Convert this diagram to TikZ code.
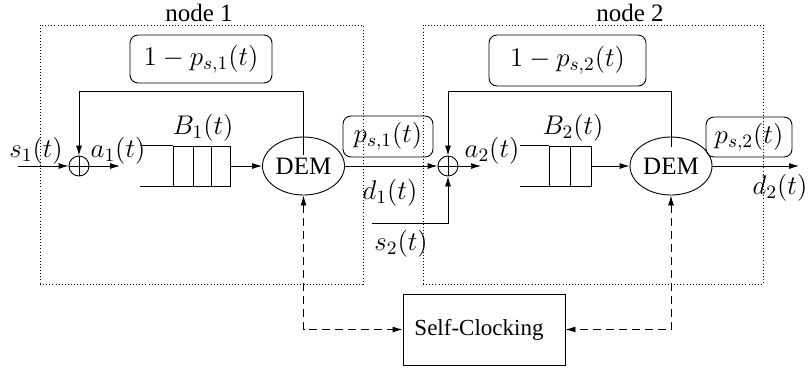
\RequirePackage{fix-cm}
\documentclass[tikz,border=0pt]{standalone}
\usepackage[no-math]{fontspec}
\setmainfont{Liberation Serif}
\usetikzlibrary{arrows.meta,calc,shapes.geometric}
\begin{document}
\begin{tikzpicture}[x=0.5pt,y=-0.5pt,
  line width=0.45pt,
  arr/.style={-{Latex[length=5pt,width=3pt]}},
  arrb/.style={{Latex[length=5pt,width=3pt]}-{Latex[length=5pt,width=3pt]}},
  ctl/.style={dash pattern=on 4pt off 2.5pt},
  mathlbl/.style={font=\fontsize{13.5}{16}\selectfont, inner sep=0pt},
  txt/.style={font=\fontsize{12.5}{15}\selectfont, inner sep=0pt},
  nodebox/.style={draw, line width=0.45pt, dash pattern=on 0.45pt off 1.1pt, rectangle, inner sep=0pt},
  probbox/.style={draw, rounded corners=4pt, inner sep=0pt, font=\fontsize{13.5}{16}\selectfont},
  sumnode/.style={draw, circle, minimum size=10pt, inner sep=0pt},
  demnode/.style={draw, ellipse, minimum width=41pt, minimum height=29pt, inner sep=0pt, font=\fontsize{12.5}{15}\selectfont},
  queue/.style={draw, rectangle, inner sep=0pt}
]
\useasboundingbox (0,0) rectangle (812,371);

% node frames
\node[nodebox, minimum width=161.5pt, minimum height=129.5pt] (n1) at (201.5,154.5) {};
\node[txt] (n1lbl) at (199,13) {node 1};
\node[nodebox, minimum width=170pt, minimum height=129.5pt] (n2) at (593,154.5) {};
\node[txt] (n2lbl) at (630,13) {node 2};

% probability boxes
\node[probbox, minimum width=71pt, minimum height=24pt] (fb1) at (201,59) {$1-p_{s,1}(t)$};
\node[probbox, minimum width=78.5pt, minimum height=25.5pt] (fb2) at (567.5,60.5) {$1-p_{s,2}(t)$};
\node[probbox, minimum width=45pt, minimum height=20.5pt] (ps1) at (388,136.5) {$p_{s,1}(t)$};
\node[probbox, minimum width=43pt, minimum height=20pt] (ps2) at (749,137) {$p_{s,2}(t)$};

% summation points
\node[sumnode] (sum1) at (79,166) {};
\draw (sum1.north) -- (sum1.south) (sum1.west) -- (sum1.east);
\node[sumnode] (sum2) at (448,166) {};
\draw (sum2.north) -- (sum2.south) (sum2.west) -- (sum2.east);

% DEM
\node[demnode] (dem1) at (303.5,166) {\raisebox{-2pt}{DEM}};
\node[demnode] (dem2) at (671,166) {\raisebox{-2pt}{DEM}};

% queues
\node[queue, minimum width=28.5pt, minimum height=20pt] (q1) at (201.5,166) {};
\draw (q1.north west) -- ++(-33,0) (q1.south west) -- ++(-33,0);
\draw (193,146) -- (193,186) (211,146) -- (211,186);
\node[queue, minimum width=21pt, minimum height=20pt] (q2) at (570,166) {};
\draw (q2.north west) -- ++(-29,0) (q2.south west) -- ++(-29,0);
\draw (570.5,146) -- (570.5,186);

% node 1 connectors
\coordinate (s1in) at (18,166);
\draw[arr] (s1in) -- (sum1.west);
\node[mathlbl] (s1lbl) at (36,151) {$s_1(t)$};
\coordinate (a1end) at (120,166);
\draw[arr] (sum1.east) -- (a1end);
\node[mathlbl] (a1lbl) at (118,151) {$a_1(t)$};
\node[mathlbl] (b1lbl) at (203,128) {$B_1(t)$};
\draw[arr] (q1.east) -- (dem1.west);
\draw[arr] ($(dem1.north)+(0,18)$) -- ++(0,-63) -| (sum1.north);
\draw[arr] (dem1.east) -- (sum2.west);
\node[mathlbl] (d1lbl) at (390,193) {$d_1(t)$};

% node 2 connectors
\coordinate (s2in) at (372,223);
\draw[arr] (s2in) -| (sum2.south);
\node[mathlbl] (s2lbl) at (401,244) {$s_2(t)$};
\coordinate (a2end) at (481,166);
\draw[arr] (sum2.east) -- (a2end);
\node[mathlbl] (a2lbl) at (492,151) {$a_2(t)$};
\node[mathlbl] (b2lbl) at (573,128) {$B_2(t)$};
\draw[arr] (q2.east) -- (dem2.west);
\draw[arr] ($(dem2.north)+(0,10)$) -- ++(0,-55) -| (sum2.north);
\coordinate (d2end) at (799,166);
\draw[arr] (dem2.east) -- (d2end);
\node[mathlbl] (d2lbl) at (780,188) {$d_2(t)$};

% self clocking
\node[draw, inner sep=0pt, font=\fontsize{11.5}{14}\selectfont, minimum width=81pt, minimum height=35.5pt] (sc) at (484,329.5) {\hspace*{-5pt}Self-Clocking};
\draw[arrb, ctl] (dem1.south) |- (sc.west);
\draw[arrb, ctl] (dem2.south) |- (sc.east);
\end{tikzpicture}
\end{document}
